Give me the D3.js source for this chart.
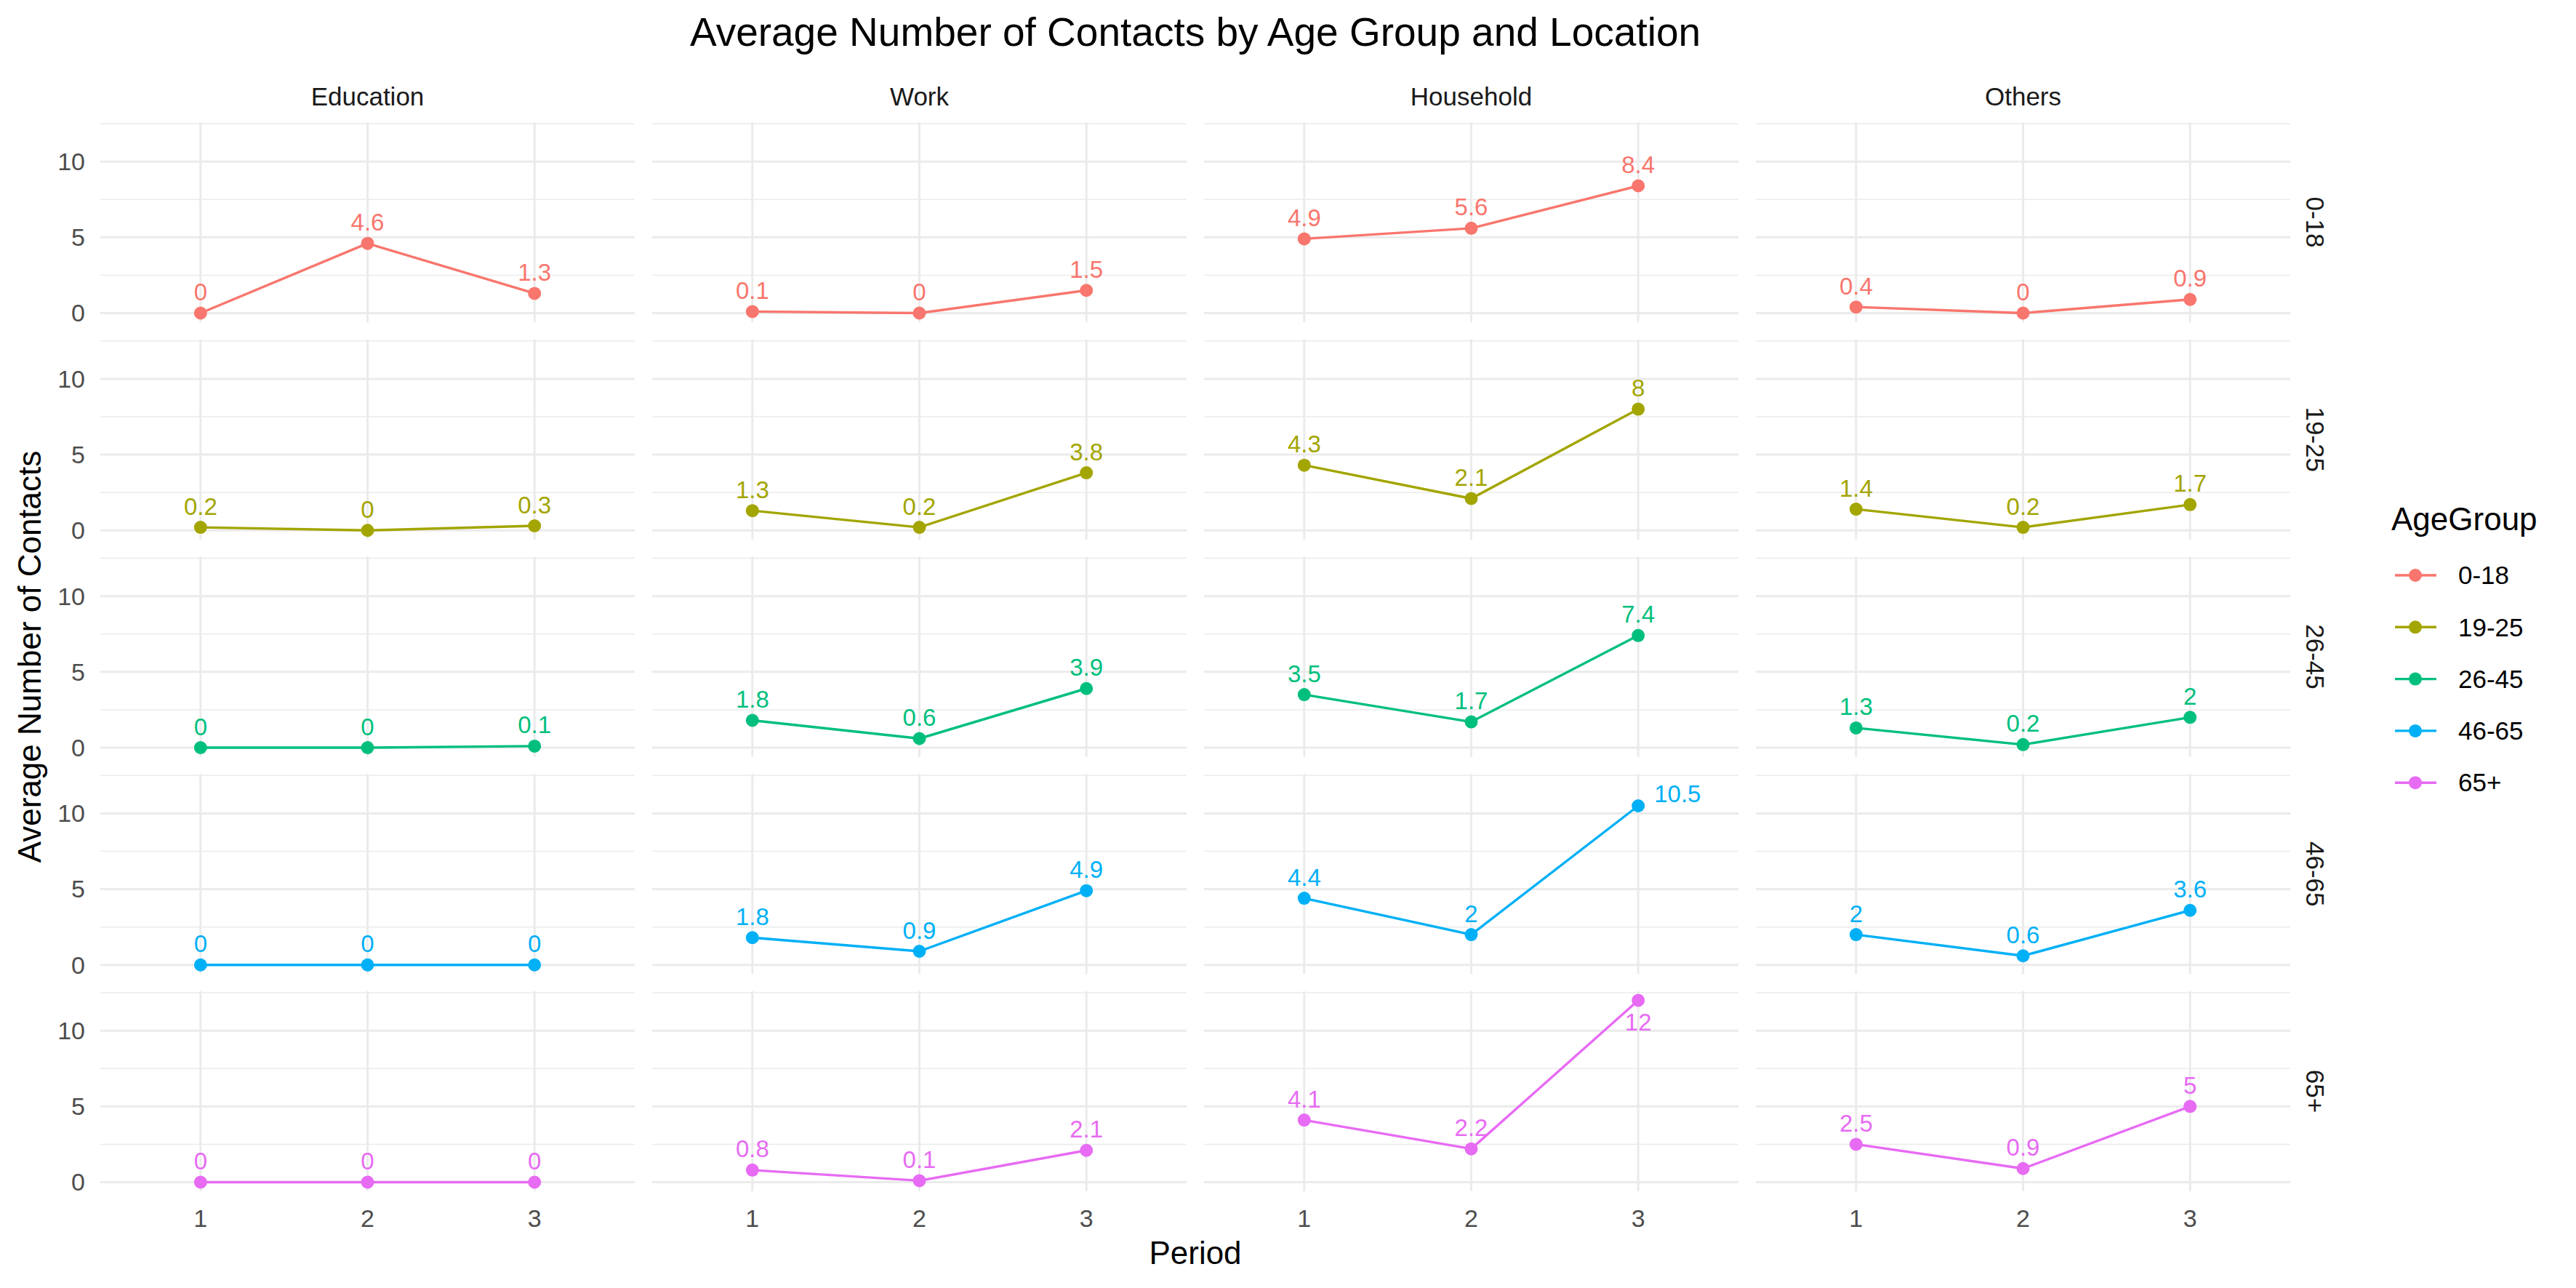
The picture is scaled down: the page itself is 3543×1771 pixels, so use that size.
<!DOCTYPE html>
<html>
<head>
<meta charset="utf-8">
<script src="https://cdn.jsdelivr.net/npm/d3@7"></script>
<style>
  html, body { margin: 0; padding: 0; background: #ffffff; }
  svg { display: block; font-family: "Liberation Sans", Arial, Helvetica, sans-serif; }
</style>
</head>
<body>
<svg id="chart" width="3543" height="1771"></svg>
<script>
// ---------------- DATA ----------------
const locations = ["Education", "Work", "Household", "Others"];
const ageGroups = ["0-18", "19-25", "26-45", "46-65", "65+"];
const periods = [1, 2, 3];
const yTicks = [0, 5, 10];
const colors = ["#F8766D", "#A3A500", "#00BF7D", "#00B0F6", "#E76BF3"];

// values per age group: one array per location (Education, Work, Household, Others), by period 1..3
const age0_18  = [[0, 4.6, 1.3], [0.1, 0, 1.5], [4.9, 5.6, 8.4], [0.4, 0, 0.9]];
const age19_25 = [[0.2, 0, 0.3], [1.3, 0.2, 3.8], [4.3, 2.1, 8], [1.4, 0.2, 1.7]];
const age26_45 = [[0, 0, 0.1], [1.8, 0.6, 3.9], [3.5, 1.7, 7.4], [1.3, 0.2, 2]];
const age46_65 = [[0, 0, 0], [1.8, 0.9, 4.9], [4.4, 2, 10.5], [2, 0.6, 3.6]];
const age65p   = [[0, 0, 0], [0.8, 0.1, 2.1], [4.1, 2.2, 12], [2.5, 0.9, 5]];
const values = [age0_18, age19_25, age26_45, age46_65, age65p];

// ---------------- LAYOUT ----------------
const svg = d3.select("#chart");
svg.append("rect").attr("width", 3543).attr("height", 1771).attr("fill", "#ffffff");

const panelW = 735, panelH = 275;
const left0 = 138, top0 = 168;
const colStep = 759, rowStep = 298.75;

const allVals = values.flat(2);
const yMax = d3.max(allVals), yMin = d3.min(allVals);
const ySpan = yMax - yMin;
const x = d3.scaleLinear().domain([0.4, 3.6]).range([0, panelW]);
const y = d3.scaleLinear().domain([yMin - 0.05 * ySpan, yMax + 0.05 * ySpan]).range([panelH, 0]);
const minorTicks = [2.5, 7.5, 12.5].filter(v => v <= y.domain()[1]);

const grid = "#EBEBEB";
const fsSmall = 35;

// Title
svg.append("text")
  .attr("x", left0 + (3 * colStep + panelW) / 2).attr("y", 63)
  .attr("text-anchor", "middle").attr("font-size", 55).attr("fill", "#000")
  .text("Average Number of Contacts by Age Group and Location");

// Column strips
locations.forEach((loc, c) => {
  svg.append("text")
    .attr("x", left0 + c * colStep + panelW / 2).attr("y", 145)
    .attr("text-anchor", "middle").attr("font-size", fsSmall).attr("fill", "#1A1A1A")
    .text(loc);
});

const line = d3.line().x((d, i) => x(periods[i])).y(d => y(d));

function labelPos(px, py) {
  const half = 16, pad = 6;
  let cy = py - 29;
  if (cy - half - pad >= 0) return [px, cy, "middle"];
  cy = py - 17;
  if (cy - half - pad >= 0) return [px + 22, cy, "start"];
  return [px, py + 30, "middle"];
}

ageGroups.forEach((ag, r) => {
  const top = top0 + r * rowStep;
  // y tick labels
  yTicks.forEach(t => {
    svg.append("text")
      .attr("x", 117).attr("y", top + y(t)).attr("dy", "0.35em")
      .attr("text-anchor", "end").attr("font-size", 34).attr("fill", "#4D4D4D")
      .text(t);
  });
  // row strip (right)
  svg.append("text")
    .attr("transform", `translate(3184,${top + panelH / 2}) rotate(90)`)
    .attr("text-anchor", "middle").attr("dy", "0.35em")
    .attr("font-size", fsSmall).attr("fill", "#1A1A1A")
    .text(ag);

  locations.forEach((loc, c) => {
    const left = left0 + c * colStep;
    const g = svg.append("g").attr("transform", `translate(${left},${top})`);
    // minor gridlines
    minorTicks.forEach(t => {
      g.append("line").attr("x1", 0).attr("x2", panelW).attr("y1", y(t)).attr("y2", y(t))
        .attr("stroke", grid).attr("stroke-width", 1.5);
    });
    // major horizontal gridlines
    yTicks.forEach(t => {
      g.append("line").attr("x1", 0).attr("x2", panelW).attr("y1", y(t)).attr("y2", y(t))
        .attr("stroke", grid).attr("stroke-width", 3);
    });
    // vertical gridlines
    periods.forEach(p => {
      g.append("line").attr("x1", x(p)).attr("x2", x(p)).attr("y1", 0).attr("y2", panelH)
        .attr("stroke", grid).attr("stroke-width", 3);
    });
    const vals = values[r][c];
    const col = colors[r];
    g.append("path").attr("d", line(vals)).attr("fill", "none")
      .attr("stroke", col).attr("stroke-width", 3.4).attr("stroke-linejoin", "round");
    vals.forEach((v, i) => {
      g.append("circle").attr("cx", x(periods[i])).attr("cy", y(v)).attr("r", 9).attr("fill", col);
    });
    vals.forEach((v, i) => {
      const [lx, ly, anchor] = labelPos(x(periods[i]), y(v));
      g.append("text").attr("x", lx).attr("y", ly).attr("dy", "0.35em")
        .attr("text-anchor", anchor).attr("font-size", 33).attr("fill", col)
        .text(String(v));
    });
    // x tick labels at bottom row
    if (r === ageGroups.length - 1) {
      periods.forEach(p => {
        svg.append("text")
          .attr("x", left + x(p)).attr("y", 1687)
          .attr("text-anchor", "middle").attr("font-size", 34).attr("fill", "#4D4D4D")
          .text(p);
      });
    }
  });
});

// Axis titles
const panelsBottom = top0 + 4 * rowStep + panelH;
svg.append("text")
  .attr("x", left0 + (3 * colStep + panelW) / 2).attr("y", 1738)
  .attr("text-anchor", "middle").attr("font-size", 44).attr("fill", "#000")
  .text("Period");
svg.append("text")
  .attr("transform", `translate(56,${(top0 + panelsBottom) / 2}) rotate(-90)`)
  .attr("text-anchor", "middle").attr("font-size", 44).attr("fill", "#000")
  .text("Average Number of Contacts");

// Legend
svg.append("text").attr("x", 3289).attr("y", 729)
  .attr("font-size", 44).attr("fill", "#000").text("AgeGroup");
ageGroups.forEach((ag, i) => {
  const ky = 791 + i * 71.3;
  svg.append("line").attr("x1", 3294).attr("x2", 3351).attr("y1", ky).attr("y2", ky)
    .attr("stroke", colors[i]).attr("stroke-width", 3.4);
  svg.append("circle").attr("cx", 3322).attr("cy", ky).attr("r", 9).attr("fill", colors[i]);
  svg.append("text").attr("x", 3381).attr("y", ky).attr("dy", "0.35em")
    .attr("font-size", fsSmall).attr("fill", "#000").text(ag);
});
</script>
</body>
</html>
